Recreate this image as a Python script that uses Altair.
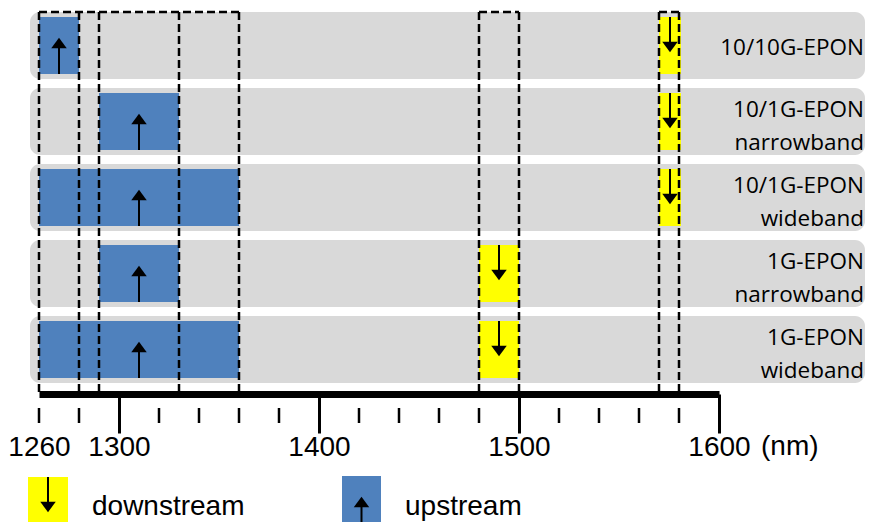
import altair as alt
import pandas as pd

# ---------------- data ----------------
rows = ["10/10G-EPON", "10/1G-EPON\nnarrowband", "10/1G-EPON\nwideband",
        "1G-EPON\nnarrowband", "1G-EPON\nwideband"]
up_start = [1260, 1290, 1260, 1290, 1260]
up_end = [1280, 1330, 1360, 1330, 1360]
down_start = [1570, 1570, 1570, 1480, 1480]
down_end = [1581, 1581, 1581, 1500, 1500]
box_start = [1260, 1290, 1260, 1480, 1570]
box_end = [1280, 1330, 1360, 1500, 1580]
label_ticks = [1260, 1300, 1400, 1500, 1600]
minor_ticks = [1260, 1280, 1320, 1340, 1360, 1380, 1420, 1440, 1460, 1480,
               1520, 1540, 1560, 1580]
directions = ["downstream", "upstream"]
colors = ["#ffff00", "#4f81bd"]
x_domain = [1260, 1600]
unit = "(nm)"

# ---------------- tables ----------------
rows_df = pd.DataFrame({"i": list(range(len(rows))), "label": rows})
bar_records = []
for i, r in enumerate(rows):
    bar_records.append({"i": i, "row": r, "direction": "upstream",
                        "start": up_start[i], "end": up_end[i]})
    bar_records.append({"i": i, "row": r, "direction": "downstream",
                        "start": down_start[i], "end": down_end[i]})
bars_df = pd.DataFrame(bar_records)
vlines_df = pd.DataFrame({"x": sorted(set(box_start + box_end))})
tops = []
for s, e in zip(box_start, box_end):
    contained = any((s2 <= s and e <= e2) and (s2, e2) != (s, e)
                    for s2, e2 in zip(box_start, box_end))
    if not contained:
        tops.append({"start": s, "end": e})
tops_df = pd.DataFrame(tops)
minor_df = pd.DataFrame({"x": minor_ticks})
unit_df = pd.DataFrame({"x": [x_domain[1]], "t": [unit]})

# ---------------- scales ----------------
xs = alt.Scale(domain=x_domain, range=[31, 711], nice=False, zero=False)
ys = alt.Scale(domain=[0, len(rows)], range=[4, 4 + 76 * len(rows)], nice=False, zero=False)
cs = alt.Scale(domain=directions, range=colors)
Y = alt.Y("i:Q", scale=ys, axis=None)
Y2 = alt.Y2("i")

BLACK = "#000000"
UP_HEAD = "M0,-0.667L1,0.667L-1,0.667Z"
DOWN_HEAD = "M0,0.667L1,-0.667L-1,-0.667Z"
W = 857

bands = alt.Chart(rows_df).mark_rect(
    color="#d9d9d9", cornerRadius=10, y2Offset=67
).encode(x=alt.value(22), x2=alt.value(W), y=Y, y2=Y2)

bars = alt.Chart(bars_df).mark_rect(yOffset=5, y2Offset=62).encode(
    x=alt.X("start:Q", scale=xs, title=None,
            axis=alt.Axis(values=label_ticks, grid=False, title=None,
                          domainWidth=7, domainColor=BLACK,
                          tickColor=BLACK, tickWidth=3, tickSize=39,
                          tickOpacity={"condition": {"test": "datum.value == 1260", "value": 0}, "value": 1},
                          labelFont="Liberation Sans", labelFontSize=28,
                          labelColor=BLACK, labelPadding=22,
                          labelBaseline="alphabetic", labelAngle=0,
                          labelFlush=False, labelOverlap=False,
                          format="d")),
    x2="end:Q",
    y=Y, y2=Y2,
    color=alt.Color("direction:N", scale=cs, legend=None),
)

centers = alt.Chart(bars_df).transform_calculate(
    center="(datum.start + datum.end) / 2")
up = centers.transform_filter("datum.direction == 'upstream'")
down = centers.transform_filter("datum.direction == 'downstream'")
XC = alt.X("center:Q", scale=xs, title=None)

up_shaft = up.mark_rule(color=BLACK, strokeWidth=2, yOffset=62, y2Offset=36).encode(
    x=XC, y=Y, y2=Y2)
up_head = up.mark_point(shape=UP_HEAD, size=240, filled=True, color=BLACK,
                        opacity=1, strokeWidth=0, yOffset=31).encode(x=XC, y=Y)
down_shaft = down.mark_rule(color=BLACK, strokeWidth=2, yOffset=5, y2Offset=30).encode(
    x=XC, y=Y, y2=Y2)
down_head = down.mark_point(shape=DOWN_HEAD, size=240, filled=True, color=BLACK,
                            opacity=1, strokeWidth=0, yOffset=35).encode(x=XC, y=Y)

vlines = alt.Chart(vlines_df).mark_rule(
    color=BLACK, strokeWidth=2.5, strokeDash=[8, 4]
).encode(x=alt.X("x:Q", scale=xs, title=None), y=alt.value(4), y2=alt.value(386))

tops_l = alt.Chart(tops_df).mark_rule(
    color=BLACK, strokeWidth=2.5, strokeDash=[8, 4]
).encode(x=alt.X("start:Q", scale=xs, title=None), x2="end:Q", y=alt.value(4))

minor = alt.Chart(minor_df).mark_rule(color=BLACK, strokeWidth=2.5).encode(
    x=alt.X("x:Q", scale=xs, title=None), y=alt.value(400), y2=alt.value(415))

unit_t = alt.Chart(unit_df).mark_text(
    align="left", baseline="alphabetic", dx=42, font="Liberation Sans",
    fontSize=28, color=BLACK
).encode(x=alt.X("x:Q", scale=xs, title=None), y=alt.value(447), text="t:N")

label_base = alt.Chart(rows_df)
single = label_base.transform_filter("indexof(datum.label, '\\n') < 0").mark_text(
    align="right", baseline="alphabetic", font="Open Sans", fontSize=22.5,
    color=BLACK, yOffset=43
).encode(x=alt.value(W - 1), y=Y, text="label:N")
multi = label_base.transform_filter("indexof(datum.label, '\\n') >= 0").mark_text(
    align="right", baseline="alphabetic", lineBreak="\n", lineHeight=33,
    font="Open Sans", fontSize=22.5, color=BLACK, yOffset=29
).encode(x=alt.value(W - 1), y=Y, text="label:N")

# legend (manual key: coloured swatch with arrow, then label)
leg_down = pd.DataFrame({"d": [directions[0]]})
leg_up = pd.DataFrame({"d": [directions[1]]})
ld_box = alt.Chart(leg_down).mark_rect().encode(
    x=alt.value(20), x2=alt.value(60), y=alt.value(469), y2=alt.value(530),
    color=alt.Color("d:N", scale=cs, legend=None))
lu_box = alt.Chart(leg_up).mark_rect().encode(
    x=alt.value(334), x2=alt.value(373), y=alt.value(468), y2=alt.value(530),
    color=alt.Color("d:N", scale=cs, legend=None))
ld_text = alt.Chart(leg_down).mark_text(
    align="left", baseline="alphabetic", font="Liberation Sans", fontSize=28,
    color=BLACK).encode(x=alt.value(84), y=alt.value(507), text="d:N")
lu_text = alt.Chart(leg_up).mark_text(
    align="left", baseline="alphabetic", font="Liberation Sans", fontSize=28,
    color=BLACK).encode(x=alt.value(397), y=alt.value(507), text="d:N")
ld_shaft = alt.Chart(leg_down).mark_rule(color=BLACK, strokeWidth=2).encode(
    x=alt.value(40), y=alt.value(469), y2=alt.value(495))
ld_head = alt.Chart(leg_down).mark_point(shape=DOWN_HEAD, size=240, filled=True,
                                         color=BLACK, opacity=1, strokeWidth=0).encode(
    x=alt.value(40), y=alt.value(499))
lu_shaft = alt.Chart(leg_up).mark_rule(color=BLACK, strokeWidth=2).encode(
    x=alt.value(353.5), y=alt.value(494), y2=alt.value(530))
lu_head = alt.Chart(leg_up).mark_point(shape=UP_HEAD, size=240, filled=True,
                                       color=BLACK, opacity=1, strokeWidth=0).encode(
    x=alt.value(353.5), y=alt.value(494))

chart = alt.layer(
    bands, bars, up_shaft, up_head, down_shaft, down_head, vlines, tops_l,
    minor, unit_t, single, multi,
    ld_box, lu_box, ld_text, lu_text, ld_shaft, ld_head, lu_shaft, lu_head
).properties(
    width=W, height=386,
    padding={"left": 0, "right": 0, "top": 0, "bottom": 128},
    autosize="none", background="white"
).configure_view(stroke=None)

chart.save("out.html", embed_options={"renderer": "svg", "actions": False})
